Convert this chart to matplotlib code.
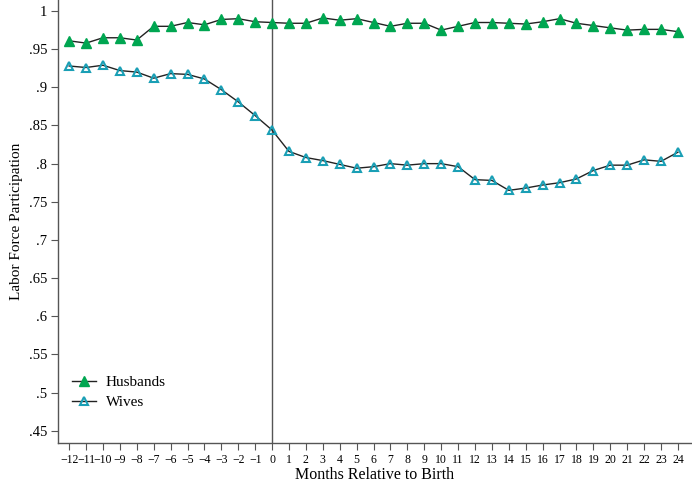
import matplotlib
matplotlib.use("Agg")
import matplotlib.pyplot as plt
from matplotlib.ticker import FuncFormatter

plt.rcParams['font.family'] = ['Liberation Serif', 'DejaVu Serif']

# Months relative to birth
months = list(range(-12, 25))

husbands = [0.961, 0.958, 0.965, 0.965, 0.962, 0.980, 0.980, 0.985, 0.982, 0.989,
            0.990, 0.986, 0.985, 0.984, 0.984, 0.991, 0.988, 0.990, 0.985, 0.980,
            0.984, 0.984, 0.975, 0.980, 0.985, 0.985, 0.984, 0.983, 0.986, 0.990,
            0.984, 0.981, 0.978, 0.975, 0.976, 0.976, 0.973]

wives = [0.928, 0.926, 0.929, 0.922, 0.920, 0.912, 0.918, 0.917, 0.911, 0.897,
         0.881, 0.863, 0.844, 0.816, 0.808, 0.804, 0.799, 0.794, 0.796, 0.800,
         0.798, 0.800, 0.800, 0.796, 0.779, 0.778, 0.765, 0.768, 0.772, 0.775,
         0.780, 0.791, 0.798, 0.798, 0.805, 0.803, 0.815]

yticks = [0.45, 0.5, 0.55, 0.6, 0.65, 0.7, 0.75, 0.8, 0.85, 0.9, 0.95, 1.0]

fig = plt.figure(figsize=(6.92, 4.84), dpi=100)
ax = fig.add_axes([0.084, 0.085, 0.914, 0.915])

ax.axvline(0, color='#555555', lw=1.0, zorder=1)

ax.plot(months, husbands, color='#222222', lw=1.0, marker='^', markersize=6.5,
        markerfacecolor='#00A651', markeredgecolor='#00A651', label='Husbands', zorder=3)
ax.plot(months, wives, color='#222222', lw=1.0, marker='^', markersize=6,
        markerfacecolor='none', markeredgecolor='#1A9FB5', markeredgewidth=1.5,
        label='Wives', zorder=3)

ax.set_xlim(-12.65, 24.75)
ax.set_ylim(0.434, 1.0145)
ax.set_xticks(months)
ax.set_yticks(yticks)
ax.yaxis.set_major_formatter(FuncFormatter(lambda v, p: ('%g' % round(v, 2)).lstrip('0') if v < 1 else '1'))

ax.spines['top'].set_visible(False)
ax.spines['right'].set_visible(False)
for s in ('left', 'bottom'):
    ax.spines[s].set_color('#555555')
    ax.spines[s].set_linewidth(1.0)

ax.tick_params(axis='x', labelsize=8.5, length=5, color='#555555', pad=3)
ax.tick_params(axis='y', labelsize=10.5, length=5, color='#555555', pad=3)

ax.set_xlabel('Months Relative to Birth', fontsize=11.5, labelpad=1)
ax.set_ylabel('Labor Force Participation', fontsize=11)

ax.legend(loc='lower left', bbox_to_anchor=(0.0, 0.045), frameon=False, fontsize=11,
          handlelength=1.6, handletextpad=0.6, labelspacing=0.4)

fig.savefig('out.png', dpi=100)
